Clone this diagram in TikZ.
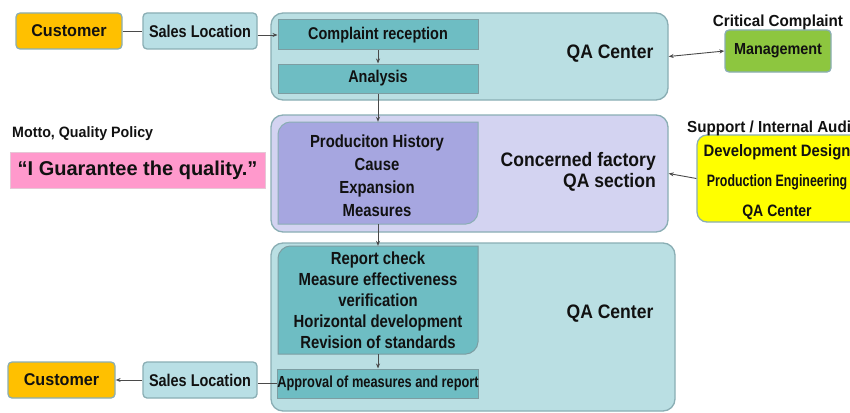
\documentclass[tikz,border=0pt]{standalone}
\usepackage{fontspec}
\setmainfont{Liberation Sans}
\newfontfamily\FSa{Liberation Sans}[FakeStretch=0.95]
\newfontfamily\FSb{Liberation Sans}[FakeStretch=0.9]
\newfontfamily\FSc{Liberation Sans}[FakeStretch=0.85]
\newfontfamily\FSd{Liberation Sans}[FakeStretch=0.8]
\newfontfamily\FSe{Liberation Sans}[FakeStretch=0.75]
\usetikzlibrary{arrows.meta}
\definecolor{bordc}{HTML}{8AAEB4}
\definecolor{custc}{HTML}{FFC000}
\definecolor{salesc}{HTML}{B9DFE5}
\definecolor{qac}{HTML}{BADFE3}
\definecolor{tealc}{HTML}{6EBDC3}
\definecolor{purpo}{HTML}{D3D3F1}
\definecolor{purpi}{HTML}{A6A6E0}
\definecolor{yelc}{HTML}{FFFF00}
\definecolor{grnc}{HTML}{8DC63F}
\definecolor{pinkc}{HTML}{FF99CC}
\definecolor{linec}{HTML}{4A4A4A}
\definecolor{txtc}{HTML}{111111}
\tikzset{
  sbox/.style={draw=bordc, line width=1.3pt, rounded corners=4pt, inner sep=0pt, text=txtc},
  bigbox/.style={draw=bordc, line width=1.3pt, rounded corners=12pt, inner sep=0pt},
  inbox/.style={draw=bordc!90!black, line width=1pt, fill=tealc, inner sep=0pt, text=txtc},
  conn/.style={draw=linec, line width=0.9pt},
  arr/.style={conn, -{Stealth[length=5pt,width=4pt]}},
  darr/.style={conn, {Stealth[length=5pt,width=4pt]}-{Stealth[length=5pt,width=4pt]}},
  lbl/.style={inner sep=0pt, text=txtc},
  fbox/.style={font=\FSc\bfseries\fontsize{17}{20}\selectfont},
}
\begin{document}
\begin{tikzpicture}[x=1pt,y=-1pt]
\useasboundingbox (0,0) rectangle (850,412);
\fill[white] (0,0) rectangle (850,412);

% top row
\node[sbox, fill=custc, minimum width=106, minimum height=36, font=\FSa\bfseries\fontsize{17}{20}\selectfont] (cust1) at (69,31) {Customer};
\node[sbox, fill=salesc, minimum width=114, minimum height=36, fbox] (sales1) at (200,31) {Sales Location};

% QA center top
\node[bigbox, fill=qac, minimum width=397, minimum height=87] (qa1) at (469.5,56.5) {};
\node[lbl, font=\FSb\bfseries\fontsize{19.5}{22}\selectfont] (qa1lbl) at (610,54) {QA Center};
\node[inbox, minimum width=200, minimum height=30, fbox] (cr) at (378,35) {Complaint reception};
\node[inbox, minimum width=200, minimum height=29, fbox] (an) at (378,78.5) {Analysis};

% management
\node[sbox, fill=grnc, minimum width=106, minimum height=42, font=\FSb\bfseries\fontsize{16}{19}\selectfont] (mgmt) at (778,51) {Management};
\node[lbl, font=\FSa\bfseries\fontsize{16}{19}\selectfont] (crit) at (778,22) {Critical Complaint};

% motto
\node[lbl, anchor=west, font=\FSa\bfseries\fontsize{15}{18}\selectfont] (motto) at (12,134) {Motto, Quality Policy};
\node[draw=pinkc!60!gray!50, line width=0.8pt, fill=pinkc, minimum width=255, minimum height=36, inner sep=0pt, text=txtc, font=\bfseries\fontsize{20}{23}\selectfont] (pol) at (137.5,170) {“I Guarantee the quality.”};

% concerned factory
\node[bigbox, fill=purpo, minimum width=397, minimum height=117] (conc) at (469.5,173.5) {};
\path[fill=purpi, draw=bordc, line width=1pt] (278,224) -- (278,134) .. controls (278,127.4) and (284.6,122) .. (290,122) -- (478,122) -- (478,212) .. controls (478,218.6) and (471.4,224) .. (466,224) -- cycle;
\node[minimum width=200, minimum height=102, inner sep=0pt] (pin) at (378,173) {};
\node[lbl, align=center, font=\FSc\bfseries\fontsize{17.5}{23}\selectfont] (pintxt) at (377,176) {Produciton History\\Cause\\Expansion\\Measures};
\node[lbl, anchor=east, align=right, font=\FSb\bfseries\fontsize{19.5}{21}\selectfont] (conclbl) at (656,172) {Concerned factory\\QA section};

% support
\node[draw=bordc, line width=1.3pt, rounded corners=10pt, fill=yelc, minimum width=165, minimum height=87, inner sep=0pt] (yel) at (779.5,178.5) {};
\node[lbl, align=center, font=\bfseries\fontsize{16.5}{30}\selectfont] (yeltxt) at (777,182) {{\FSb Development Design}\\{\FSe Production Engineering}\\{\FSc QA Center}};
\node[lbl, anchor=west, font=\FSa\bfseries\fontsize{16}{19}\selectfont] (supp) at (687,128) {Support / Internal Audit};

% QA center bottom
\node[bigbox, fill=qac, minimum width=404, minimum height=168] (qa2) at (473,327) {};
\node[lbl, font=\FSb\bfseries\fontsize{19.5}{22}\selectfont] (qa2lbl) at (610,314) {QA Center};
\path[fill=tealc, draw=bordc!90!black, line width=1pt] (278,354) -- (278,258) .. controls (278,251.4) and (284.6,246) .. (290,246) -- (478,246) -- (478,342) .. controls (478,348.6) and (471.4,354) .. (466,354) -- cycle;
\node[minimum width=200, minimum height=108, inner sep=0pt, align=center, text=txtc, font=\FSc\bfseries\fontsize{17.5}{21}\selectfont] (rc) at (378,300) {Report check\\Measure effectiveness\\verification\\Horizontal development\\Revision of standards};
\node[inbox, minimum width=200, minimum height=29, font=\FSd\bfseries\fontsize{16}{19}\selectfont] (ap) at (378,383.5) {Approval of measures and report};

% bottom row
\node[sbox, fill=custc, minimum width=107, minimum height=36, font=\FSa\bfseries\fontsize{17}{20}\selectfont] (cust2) at (61.5,380) {Customer};
\node[sbox, fill=salesc, minimum width=114, minimum height=36, fbox] (sales2) at (200,380) {Sales Location};

% connectors
\draw[conn] (cust1) -- (sales1);
\draw[arr] (sales1.east |- cr.west) -- (cr.west);
\draw[arr] (cr.south) -- (an.north);
\draw[arr] (an.south) -- (pin.north);
\draw[arr] (pin.south) -- (rc.north);
\draw[arr] (rc.south) -- (ap.north);
\draw[darr] (qa1.east) -- (mgmt.west);
\draw[arr] (yel.west) -- (conc.east);
\draw[arr] (sales2) -- (cust2);
\draw[conn] (ap.west) -- (sales2.east |- ap.west);
\end{tikzpicture}
\end{document}
